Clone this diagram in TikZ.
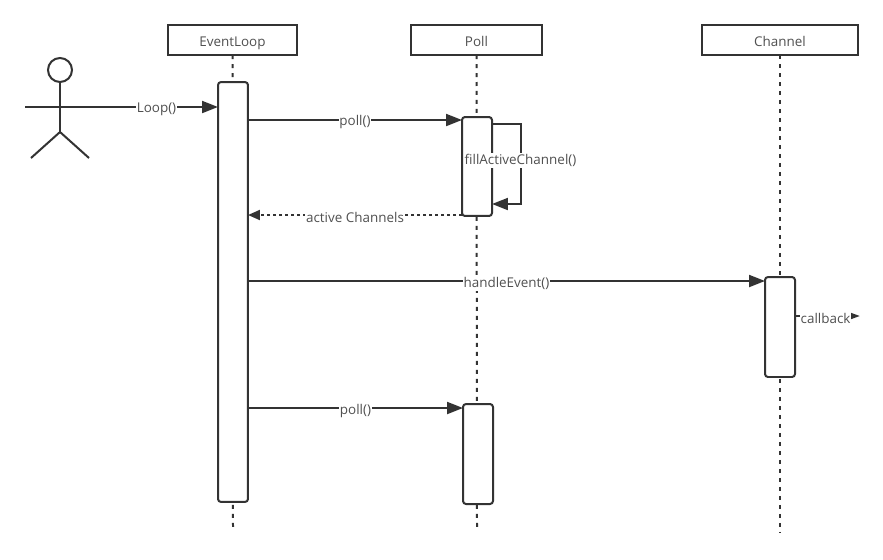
\documentclass[tikz,border=0pt]{standalone}
\usepackage{xcolor}
\usepackage{fontspec}
\setmainfont{Open Sans}
\usetikzlibrary{arrows.meta, positioning}
\definecolor{mydark}{RGB}{51,51,51}
\definecolor{mytext}{RGB}{80,80,80}
\tikzset{
  headbox/.style={rectangle, draw=mydark, fill=white, minimum height=0.6cm,
    font=\fontsize{7.65}{9}\selectfont, text=mytext, line width=0.04cm, inner sep=0pt, outer sep=0pt,
    text height=7pt, text depth=0pt},
  actbar/.style={rectangle, draw=mydark, fill=white, minimum width=0.6cm,
    rounded corners=0.06cm, line width=0.04cm, inner sep=0pt, outer sep=0pt},
  lifeline/.style={color=mydark, line width=0.04cm, dash pattern=on 0.08cm off 0.1cm},
  msgline/.style={color=mydark, line width=0.04cm},
  msgarrow/.style={msgline, -{Triangle[length=0.32cm, width=0.24cm]}},
  backarrow/.style={msgline, dash pattern=on 0.06cm off 0.06cm, -{Triangle[length=0.24cm, width=0.2cm]}},
  tinyarrow/.style={msgline, -{Triangle[length=0.2cm, width=0.13cm]}},
  msglabel/.style={fill=white, text=mytext, font=\fontsize{7.65}{9}\selectfont, inner sep=0.5pt, yshift=-0.05cm}
}

\begin{document}
\begin{tikzpicture}[x=0.02cm, y=-0.02cm]
  \useasboundingbox (0,0) rectangle (883,559);

  % Headers
  \node[headbox, minimum width=2.58cm] (evhead) at (232.5,40) {EventLoop};
  \node[headbox, minimum width=2.62cm] (pollhead) at (476.5,40) {Poll};
  \node[headbox, minimum width=3.12cm] (chanhead) at (780,40) {Channel};

  % Lifeline ends
  \coordinate (evend) at (233,527);
  \coordinate (pollend) at (477,527);
  \coordinate (chanend) at (780,533);
  \draw[lifeline] (evhead) -- (evend);
  \draw[lifeline] (pollhead) -- (pollend);
  \draw[lifeline] (chanhead) -- (chanend);

  % Activation bars
  \node[actbar, minimum height=8.4cm] (evbar) at (233,292) {};
  \node[actbar, minimum height=1.98cm] (pollbarA) at (477,166.5) {};
  \node[actbar, minimum height=2cm] (pollbarB) at (478,454) {};
  \node[actbar, minimum height=2cm] (chanbar) at (780,327) {};

  % Actor
  \node[circle, draw=mydark, fill=white, line width=0.04cm, minimum size=0.48cm, inner sep=0pt, outer sep=0pt] (head) at (60,70) {};
  \coordinate (armL) at (25,107);
  \coordinate (armR) at (95,107);
  \coordinate (hip) at (60,132);
  \coordinate (footL) at (31,158);
  \coordinate (footR) at (89,158);
  \draw[msgline] (head) -- (hip);
  \draw[msgline] (armL) -- (armR);
  \draw[msgline] (footL) -- (hip) -- (footR);

  % Message levels
  \coordinate (lvlpoll) at (0,120);
  \coordinate (lvlback) at (0,215);
  \coordinate (lvlhandle) at (0,281);
  \coordinate (lvlcall) at (0,316);
  \coordinate (lvlpollb) at (0,408);
  \coordinate (callend) at (860,316);
  \coordinate (selfout) at (521,124);
  \coordinate (selfin) at (521,204);

  % Messages
  \draw[msgarrow] (armR) -- (evbar.west |- armR) node[midway, msglabel] {Loop()};
  \draw[msgarrow] (evbar.east |- lvlpoll) -- (pollbarA.west |- lvlpoll) node[midway, msglabel] {poll()};
  \draw[backarrow] (pollbarA.west |- lvlback) -- (evbar.east |- lvlback) node[midway, msglabel] {active Channels};
  \draw[msgarrow] (evbar.east |- lvlhandle) -- (chanbar.west |- lvlhandle) node[midway, msglabel] {handleEvent()};
  \draw[msgarrow] (evbar.east |- lvlpollb) -- (pollbarB.west |- lvlpollb) node[midway, msglabel] {poll()};
  \draw[tinyarrow] (chanbar.east |- lvlcall) -- (callend) node[pos=0.47, msglabel] {callback};

  % Self call on Poll
  \draw[msgarrow] (pollbarA.east |- selfout) -- (selfout) -- (selfin) -- (pollbarA.east |- selfin);
  \node[msglabel] (filllabel) at (520.5,158) {fillActiveChannel()};
\end{tikzpicture}
\end{document}
